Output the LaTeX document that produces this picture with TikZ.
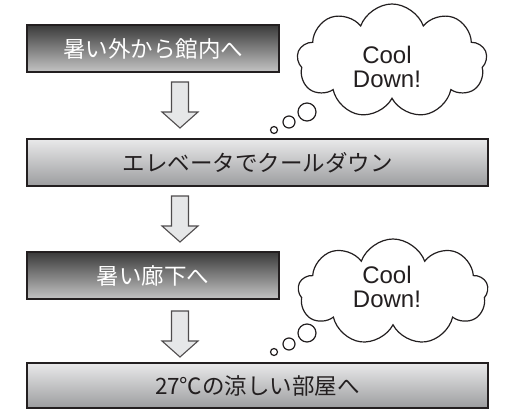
\documentclass[tikz,border=0pt]{standalone}
\usepackage{fontspec}
\newfontfamily\jp{Noto Sans CJK JP}
\newfontfamily\lat{Liberation Sans}
\usetikzlibrary{shapes.symbols}
\definecolor{ink}{HTML}{231F20}
\definecolor{darktop}{HTML}{3A3A3A}
\definecolor{darkbot}{HTML}{C4C4C4}
\definecolor{lighttop}{HTML}{E9E9EA}
\definecolor{lightbot}{HTML}{9C9D9F}
\definecolor{arrowfill}{HTML}{E6E7E8}
\tikzset{
  boxbase/.style={draw=ink, line width=1.8pt, inner sep=0pt, minimum height=47pt, font=\jp\fontsize{22.5}{26}\selectfont},
  darkbox/.style={boxbase, top color=darktop, bottom color=darkbot, text=white},
  lightbox/.style={boxbase, top color=lighttop, bottom color=lightbot, text=ink},
  arrowstyle/.style={draw=ink!80, fill=arrowfill, line width=1.1pt, line join=miter},
  downarrow/.pic={\draw[arrowstyle] (-8.5,0) -- (8.5,0) -- (8.5,30) -- (18,30) -- (0,46) -- (-18,30) -- (-8.5,30) -- cycle;},
  thought/.style={cloud, cloud puffs=9, cloud puff arc=140, draw=ink, fill=white, line width=1.2pt, inner sep=0pt},
  bubble/.style={draw=ink, fill=white, line width=1.2pt},
  cooltext/.style={align=center, font=\lat\fontsize{24}{24}\selectfont, text=ink, inner sep=0pt}
}
\begin{document}
\begin{tikzpicture}[x=1pt,y=-1pt]
\useasboundingbox (0,0) rectangle (505,409);
% boxes
\node[darkbox, minimum width=252pt] (b1) at (153,48.5) {暑い外から館内へ};
\node[lightbox, minimum width=461pt] (b2) at (257.5,162.5) {エレベータでクールダウン};
\node[darkbox, minimum width=252pt] (b3) at (153,275.5) {暑い廊下へ};
\node[lightbox, minimum width=461pt, minimum height=45pt] (b4) at (257.5,385.5) {27℃の涼しい部屋へ};
% arrows
\pic at (180,82) {downarrow};
\pic at (180,196) {downarrow};
\pic at (180,311) {downarrow};
% cloud 1
\node[thought, minimum width=190pt, minimum height=114pt] (c1) at (392,61) {};
\node[cooltext] (t1) at (387,67) {Cool\\Down!};
\draw[bubble] (307,112) circle (9);
\draw[bubble] (289,122) circle (6);
\draw[bubble] (274,130) circle (3.5);
% cloud 2
\node[thought, minimum width=190pt, minimum height=106pt] (c2) at (393,292) {};
\node[cooltext] (t2) at (387,287) {Cool\\Down!};
\draw[bubble] (307,333) circle (9);
\draw[bubble] (289,344) circle (6);
\draw[bubble] (274,352) circle (3.5);
\end{tikzpicture}
\end{document}
